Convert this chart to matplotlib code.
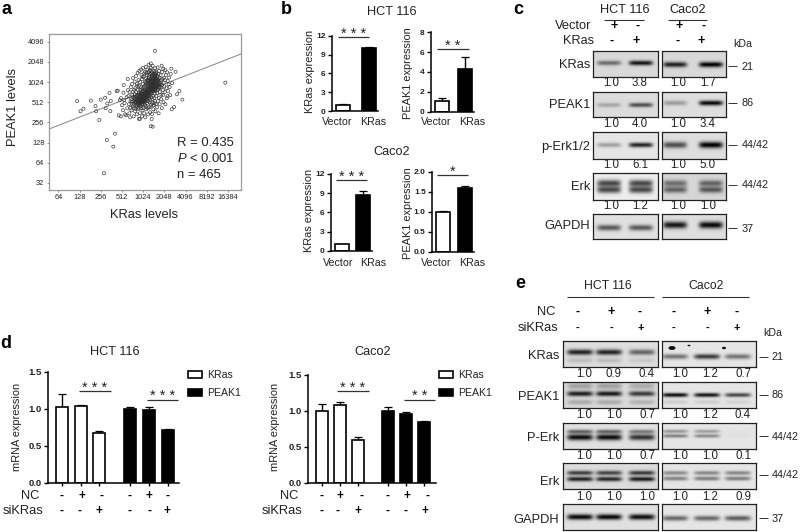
import numpy as np
import matplotlib
matplotlib.use("Agg")
import matplotlib.pyplot as plt
from matplotlib.patches import Ellipse

plt.rcParams['font.family'] = ['Liberation Sans', 'DejaVu Sans']
plt.rcParams['mathtext.fontset'] = 'custom'
plt.rcParams['mathtext.it'] = 'Liberation Sans:italic'
plt.rcParams['mathtext.rm'] = 'Liberation Sans'

# ---------- panel a data (log2 of levels) ----------
log2_ticks_x = [6, 7, 8, 9, 10, 11, 12, 13, 14]
log2_ticks_y = [5, 6, 7, 8, 9, 10, 11, 12]
fit_x = [5.53, 14.62]
fit_y = [7.66, 11.39]
scatter_outer = [
 (6.88,9.06),(7.04,8.55),(7.18,8.68),(7.53,9.08),(7.75,8.81),(7.78,8.55),(7.93,8.12),(8.0,9.13),
 (8.2,9.22),(8.31,8.94),(8.23,8.70),(8.41,9.46),(8.47,9.06),(8.45,8.56),(8.28,7.13),(8.67,7.44),
 (8.59,6.80),(8.15,5.48),(8.75,9.55),(8.80,9.57),(9.07,9.47),(9.08,9.85),(9.27,10.15),(10.56,11.55),
 (13.88,9.97),(11.85,9.13),(11.71,9.55),(11.60,9.39),(11.46,8.76),(11.35,8.65),(11.53,10.51),
 (11.33,10.66),(11.30,10.40),(10.87,10.81),(10.36,10.92),(10.45,7.79),(10.36,7.81),(10.40,8.17),
 (9.84,8.17),(9.80,8.18),(11.15,9.30),(11.37,9.95),(11.20,9.88),
]
scatter_ring = [
 (8.85,8.35),(8.95,8.30),(8.90,9.10),(8.95,9.20),(9.00,8.85),(9.05,8.60),(9.10,9.10),(9.12,8.95),
 (9.15,8.40),(9.20,8.35),(9.22,9.25),(9.25,8.70),(9.28,9.60),(9.30,9.30),(9.33,8.90),(9.35,8.45),
 (9.38,8.25),(9.40,9.05),(9.42,9.75),(9.45,8.60),(9.47,9.90),(9.48,9.35),(9.50,8.80),(9.52,10.20),
 (9.55,8.30),(9.57,9.62),(9.60,10.02),(9.62,8.55),(9.64,8.95),(9.66,10.30),(9.70,8.40),(9.72,9.80),
 (9.74,10.45),(9.76,8.65),(9.78,10.10),(9.82,10.55),(9.85,8.45),(9.88,8.80),(9.90,10.62),(9.92,10.35),
 (9.95,8.30),(9.97,8.60),(10.00,10.70),(10.02,8.90),(10.05,8.45),(10.08,10.50),(10.10,8.25),(10.12,10.75),
 (10.15,8.65),(10.18,8.95),(10.20,10.62),(10.23,8.40),(10.26,10.85),(10.28,8.75),(10.30,10.55),(10.33,8.50),
 (10.36,10.70),(10.38,8.88),(10.42,8.42),(10.45,10.80),(10.48,8.65),(10.50,10.55),(10.53,8.95),(10.56,10.68),
 (10.58,8.55),(10.62,10.45),(10.65,8.75),(10.68,10.72),(10.70,9.05),(10.73,8.45),(10.76,10.55),(10.78,8.90),
 (10.82,10.35),(10.85,9.15),(10.88,8.70),(10.90,10.50),(10.93,9.35),(10.96,9.00),(10.98,10.20),(11.02,9.50),
 (11.05,8.90),(11.07,10.35),(11.10,9.70),(11.12,9.20),(11.16,10.05),(11.18,9.55),(11.22,10.22),(11.25,9.75),
 (11.04,10.60),(10.95,10.65),(11.13,10.48),(11.28,9.35),(9.58,9.20),(9.68,9.30),(9.36,9.50),(9.44,9.15),
]
scatter_core = [
 (9.55,9.05),(9.58,8.90),(9.60,9.40),(9.62,9.15),(9.63,9.70),(9.65,9.00),(9.67,9.50),(9.68,8.85),
 (9.70,9.22),(9.71,9.90),(9.73,9.05),(9.75,9.38),(9.76,9.60),(9.77,8.98),(9.79,9.18),(9.80,9.82),
 (9.81,9.45),(9.83,9.02),(9.84,9.28),(9.85,10.00),(9.86,9.62),(9.87,9.12),(9.88,9.40),(9.89,8.95),
 (9.90,9.75),(9.91,9.22),(9.92,9.05),(9.93,9.50),(9.94,10.15),(9.95,9.32),(9.95,8.90),(9.96,9.68),
 (9.97,9.12),(9.98,9.42),(9.99,9.90),(10.00,9.02),(10.00,9.25),(10.01,9.55),(10.02,9.75),(10.03,10.28),
 (10.04,9.12),(10.05,9.36),(10.06,9.62),(10.07,8.98),(10.08,10.02),(10.09,9.48),(10.10,9.22),(10.10,9.78),
 (10.11,9.05),(10.12,9.30),(10.13,9.58),(10.14,10.18),(10.15,9.90),(10.16,9.42),(10.17,9.15),(10.18,9.68),
 (10.19,10.35),(10.20,9.28),(10.21,9.52),(10.22,9.82),(10.23,9.05),(10.24,10.05),(10.25,9.38),(10.26,9.62),
 (10.27,10.22),(10.28,9.20),(10.29,9.48),(10.30,9.92),(10.31,9.72),(10.32,9.10),(10.33,10.40),(10.34,9.35),
 (10.35,9.58),(10.36,10.10),(10.37,9.82),(10.38,9.25),(10.39,9.45),(10.40,10.02),(10.41,9.68),(10.42,10.28),
 (10.43,9.15),(10.44,9.90),(10.45,9.52),(10.46,10.15),(10.47,9.75),(10.48,9.32),(10.49,10.00),(10.50,9.62),
 (10.51,10.35),(10.52,9.20),(10.53,9.85),(10.54,9.42),(10.55,10.08),(10.56,9.70),(10.57,9.05),(10.58,10.22),
 (10.59,9.55),(10.60,9.92),(10.62,9.30),(10.63,10.05),(10.64,9.78),(10.66,10.30),(10.67,9.45),(10.69,9.62),
 (10.70,10.12),(10.72,9.88),(10.74,9.22),(10.75,9.70),(10.77,10.20),(10.79,9.50),(10.80,9.95),(10.83,9.72),
 (10.84,10.08),(10.86,9.38),(10.89,9.85),(10.91,10.15),(10.94,9.60),(10.97,9.95),(11.00,9.78),(11.03,10.10),
 (9.48,9.02),(9.50,9.25),(9.45,8.92),(9.52,9.52),(9.40,8.72),(9.56,8.72),(9.64,8.68),(9.72,8.78),
 (9.78,8.72),(9.86,8.92),(9.92,8.70),(10.02,8.72),(10.09,8.85),(10.13,8.78),(10.22,8.70),(10.30,9.00),
 (10.35,8.78),(10.44,8.95),(10.50,8.85),(10.60,8.90),(10.42,10.50),(10.34,10.60),(10.25,10.48),(10.15,10.45),
 (10.05,10.42),(9.97,10.25),(10.48,10.42),(10.60,10.52),(10.72,10.40),(10.40,10.42),(10.28,10.32),(10.58,10.38),
]
scatter_dense_low = [
 (9.62,9.02),(9.66,9.10),(9.70,8.97),(9.74,9.12),(9.78,9.05),(9.80,9.25),(9.82,8.96),(9.85,9.10),
 (9.86,9.20),(9.88,9.03),(9.90,9.30),(9.92,9.15),(9.94,9.00),(9.94,9.24),(9.96,9.10),(9.98,9.32),
 (9.98,9.05),(10.00,9.15),(10.02,9.38),(10.02,9.06),(10.04,9.22),(10.06,9.14),(10.06,9.44),(10.08,9.30),
 (10.08,9.04),(10.10,9.40),(10.12,9.14),(10.12,9.50),(10.14,9.25),(10.16,9.36),(10.16,9.55),(10.18,9.20),
 (10.20,9.44),(10.20,9.62),(10.22,9.33),(10.24,9.50),(10.24,9.72),(10.26,9.42),(10.28,9.58),(10.28,9.30),
 (9.76,8.90),(9.84,8.86),(9.68,9.18),(9.60,9.28),(9.72,9.32),(9.82,9.38),(9.90,9.46),(9.96,9.56),
]
scatter_dense_high = [
 (10.26,9.80),(10.30,9.66),(10.30,9.86),(10.32,9.98),(10.32,9.54),(10.34,9.76),(10.34,10.14),(10.36,9.92),
 (10.36,9.64),(10.38,10.04),(10.38,9.74),(10.38,9.52),(10.40,9.88),(10.40,10.20),(10.42,9.60),(10.42,9.80),
 (10.42,10.10),(10.44,9.96),(10.44,9.70),(10.44,10.34),(10.46,9.86),(10.46,10.05),(10.46,9.58),(10.48,10.18),
 (10.48,9.92),(10.48,9.68),(10.50,10.08),(10.50,9.82),(10.52,9.96),(10.52,10.26),(10.52,9.72),(10.54,10.14),
 (10.54,9.88),(10.54,9.60),(10.56,10.02),(10.56,10.30),(10.58,9.80),(10.58,9.66),(10.60,10.12),(10.60,10.38),
 (10.62,9.90),(10.62,9.72),(10.64,10.16),(10.64,9.60),(10.66,9.88),(10.66,10.06),(10.68,9.78),(10.68,10.22),
 (10.70,9.96),(10.72,10.08),(10.74,9.84),(10.76,10.00),(10.78,9.74),(10.82,9.86),(10.20,9.94),(10.22,10.12),
 (10.18,10.08),(10.28,10.10),(10.12,9.98),(10.10,9.86),
]
scatter_all = scatter_outer + scatter_ring + scatter_core + scatter_dense_low + scatter_dense_high

# ---------- panel b data ----------
b_cats = ['Vector', 'KRas']
b_hct_kras = [1.0, 10.1]
b_hct_kras_err = [0.05, 0.1]
b_hct_peak1 = [1.05, 4.3]
b_hct_peak1_err = [0.35, 1.25]
b_caco_kras = [1.0, 8.7]
b_caco_kras_err = [0.05, 0.7]
b_caco_peak1 = [1.0, 1.6]
b_caco_peak1_err = [0.01, 0.05]
b_hct_kras_ticks = [0, 3, 6, 9, 12]
b_hct_peak1_ticks = [0, 2, 4, 6, 8]
b_caco_kras_ticks = [0, 3, 6, 9, 12]
b_caco_peak1_ticks = [0.0, 0.5, 1.0, 1.5, 2.0]

# ---------- panel d data ----------
d_hct_kras = [1.02, 1.04, 0.67]
d_hct_kras_err = [0.18, 0.01, 0.03]
d_hct_peak1 = [1.00, 0.99, 0.72]
d_hct_peak1_err = [0.02, 0.04, 0.01]
d_caco_kras = [1.00, 1.09, 0.60]
d_caco_kras_err = [0.10, 0.04, 0.04]
d_caco_peak1 = [1.00, 0.96, 0.85]
d_caco_peak1_err = [0.06, 0.03, 0.01]
d_ticks = [0.0, 0.5, 1.0, 1.5]
nc_signs = ['-', '+', '-', '-', '+', '-']
si_signs = ['-', '-', '+', '-', '-', '+']

# ---------- panel c data: band strength per lane, fold values ----------
c_kras = [0.5, 0.92, 0.85, 1.0]
c_peak1 = [0.25, 0.65, 0.3, 0.97]
c_perk = [0.3, 0.85, 0.65, 1.0]
c_erk = [0.7, 0.7, 0.55, 0.6]
c_gapdh = [0.6, 0.6, 0.9, 0.97]
c_fold_kras = ['1.0', '3.8', '1.0', '1.7']
c_fold_peak1 = ['1.0', '4.0', '1.0', '3.4']
c_fold_perk = ['1.0', '6.1', '1.0', '5.0']
c_fold_erk = ['1.0', '1.2', '1.0', '1.0']

# ---------- panel e data ----------
e_kras = [0.85, 0.85, 0.55, 0.5, 0.75, 0.5]
e_peak1 = [0.88, 0.9, 0.75, 0.95, 0.92, 0.7]
e_perk = [0.95, 0.95, 0.78, 0.5, 0.45, 0.03]
e_erk = [0.72, 0.7, 0.75, 0.4, 0.42, 0.42]
e_gapdh = [0.97, 0.97, 0.95, 0.55, 0.55, 0.6]
e_fold_kras = ['1.0', '0.9', '0.4', '1.0', '1.2', '0.7']
e_fold_peak1 = ['1.0', '1.0', '0.7', '1.0', '1.2', '0.4']
e_fold_perk = ['1.0', '1.0', '0.7', '1.0', '1.0', '0.1']
e_fold_erk = ['1.0', '1.0', '1.0', '1.0', '1.2', '0.9']

W, H = 800, 532
fig = plt.figure(figsize=(W / 100, H / 100), dpi=100, facecolor='white')


def axpx(x0, y0, x1, y1, **kw):
    return fig.add_axes([x0 / W, 1 - y1 / H, (x1 - x0) / W, (y1 - y0) / H], **kw)


ov = fig.add_axes([0, 0, 1, 1], zorder=10)
ov.set_xlim(0, W)
ov.set_ylim(H, 0)
ov.axis('off')
TC = '#222222'


def T(x, y, s, size=8, ha='center', va='center', **kw):
    kw.setdefault('color', TC)
    ov.text(x, y, s, fontsize=size, ha=ha, va=va, **kw)


def L(x0, x1, y, lw=0.8, c='#333333'):
    ov.plot([x0, x1], [y, y], color=c, lw=lw, solid_capstyle='butt')


def sign(x, y, s, size=8.5):
    T(x, y, s, size=size, fontweight='bold', color='black')


for (x, y, s) in [(7, 9, 'a'), (286, 9, 'b'), (518, 9, 'c'), (6, 343, 'd'), (520, 283, 'e')]:
    T(x, y, s, size=13, fontweight='bold', color='black')

# ---------- panel a ----------
ax = axpx(48.5, 34, 241, 190)
sx = [p[0] for p in scatter_all]
sy = [p[1] for p in scatter_all]
ax.scatter(sx, sy, s=5, facecolors='none', edgecolors='#303030', linewidths=0.45, zorder=3)
ax.plot(fit_x, fit_y, color='#8c8c8c', lw=0.75, zorder=2)
ax.set_xlim(5.53, 14.62)
ax.set_ylim(4.65, 12.38)
ax.set_xticks(log2_ticks_x)
ax.set_xticklabels([str(2 ** int(v)) for v in log2_ticks_x], fontsize=5.3, color=TC)
ax.set_yticks(log2_ticks_y)
ax.set_yticklabels([str(2 ** int(v)) for v in log2_ticks_y], fontsize=5.3, color=TC)
ax.tick_params(length=1.5, width=0.5, color='#666666', pad=1.5)
for sp in ax.spines.values():
    sp.set_color('#9a9a9a')
    sp.set_linewidth(0.9)
T(144, 215, 'KRas levels', size=9.3)
T(13, 107, 'PEAK1 levels', size=9.3, rotation=90)
T(177, 143, 'R = 0.435', size=9.4, ha='left')
T(177, 159, r'$\mathit{P}$ < 0.001', size=9.4, ha='left')
T(177, 175, 'n = 465', size=9.4, ha='left')


def style_bar_axis(ax, ticks, labels, size=6):
    for s in ('top', 'right'):
        ax.spines[s].set_visible(False)
    for s in ('left', 'bottom'):
        ax.spines[s].set_linewidth(1.1)
    ax.set_yticks(ticks)
    ax.set_yticklabels(labels, fontsize=size, fontweight='bold', color=TC)
    ax.tick_params(axis='y', length=3, width=1.0, pad=1.5)
    ax.patch.set_alpha(0)


def bars(ax, xs, vals, errs, fill, width, label=None):
    c = ax.bar(xs, vals, width=width, facecolor=fill, edgecolor='black', linewidth=1.2, label=label, zorder=2)
    ax.errorbar(xs, vals, yerr=[[0] * len(vals), errs], fmt='none', ecolor='black',
                elinewidth=1.0, capsize=2.6, capthick=0.9, zorder=1)
    return c


# ---------- panel b ----------
b_panels = [
    (332, 385, 35.7, 111, 12, b_hct_kras, b_hct_kras_err, b_hct_kras_ticks, [str(t) for t in b_hct_kras_ticks],
     (343, 369), (338, 369, 37), '* * *', 'KRas expression', 310, 71, 122, 337, 373),
    (431, 482, 32.3, 111.7, 8, b_hct_peak1, b_hct_peak1_err, b_hct_peak1_ticks, [str(t) for t in b_hct_peak1_ticks],
     (442, 465), (437, 469, 48.7), '* *', 'PEAK1 expression', 408, 73, 122, 436, 472),
    (331, 382, 174, 250.7, 12, b_caco_kras, b_caco_kras_err, b_caco_kras_ticks, [str(t) for t in b_caco_kras_ticks],
     (342, 363), (336, 367, 180), '* * *', 'KRas expression', 309, 210, 263, 338, 373),
    (432, 482, 172, 251.7, 2.0, b_caco_peak1, b_caco_peak1_err, b_caco_peak1_ticks, ['%.1f' % t for t in b_caco_peak1_ticks],
     (443, 465), (437, 468, 175), '*', 'PEAK1 expression', 408, 213, 263, 436, 472),
]
for (x0, x1, yt, yb, ymax, vals, errs, ticks, tl, cx, sig, star, yl, ylx, yly, laby, vx, kx) in b_panels:
    a = axpx(x0, yt, x1, yb)
    a.set_xlim(x0, x1)
    a.set_ylim(0, ymax)
    bars(a, cx[0], [vals[0]], [errs[0]], 'white', 14)
    bars(a, cx[1], [vals[1]], [errs[1]], 'black', 14)
    a.set_xticks([])
    style_bar_axis(a, ticks, tl)
    a.spines['bottom'].set_bounds(x0, cx[1] + 9)
    L(sig[0], sig[1], sig[2], lw=0.9)
    T((sig[0] + sig[1]) / 2, sig[2] - 3, star, size=10.5)
    T(ylx, yly, yl, size=7.9, rotation=90)
    T(vx, laby, b_cats[0], size=7.7)
    T(kx, laby, b_cats[1], size=7.7)
T(392, 12, 'HCT 116', size=9.2)
T(392, 152, 'Caco2', size=9.2)

# ---------- panel d ----------
d_panels = [
    (47.7, 179, 371.7, 483, d_hct_kras, d_hct_kras_err, d_hct_peak1, d_hct_peak1_err,
     (62, 80.7, 99.3), (130, 149, 168), (79, 111, '* * *'), (147, 178, '* * *'), 17,
     (62, 82, 102, 130, 149, 168), (62, 80, 99, 130, 149, 167), 39, 43, 188, 115, 'HCT 116'),
    (307.7, 435.7, 375, 483, d_caco_kras, d_caco_kras_err, d_caco_peak1, d_caco_peak1_err,
     (321.7, 340, 357.7), (388, 406, 424), (337, 369, '* * *'), (404, 435, '* *'), 275,
     (321, 340, 361, 388, 407, 427), (321, 338, 358, 388, 405, 425), 298, 302, 439, 373, 'Caco2'),
]
for (x0, x1, yt, yb, kv, ke, pv, pe, kx, px, s1, s2, ylx, ncx, six, ncr, sir, legx, tx, title) in d_panels:
    a = axpx(x0, yt, x1, yb)
    a.set_xlim(x0, x1)
    a.set_ylim(0, 1.5)
    bars(a, kx, kv, ke, 'white', 12, label='KRas')
    bars(a, px, pv, pe, 'black', 12, label='PEAK1')
    a.set_xticks(list(kx) + list(px))
    a.set_xticklabels([])
    a.tick_params(axis='x', length=2.5, width=1.0)
    style_bar_axis(a, d_ticks, ['%.1f' % t for t in d_ticks], size=6.8)
    L(s1[0], s1[1], 391, lw=0.9)
    T((s1[0] + s1[1]) / 2, 387.5, s1[2], size=10.5)
    L(s2[0], s2[1], 400, lw=0.9)
    T((s2[0] + s2[1]) / 2, 396.5, s2[2], size=10.5)
    T(ylx, 427, 'mRNA expression', size=7.9, rotation=90)
    T(tx, 352, title, size=9.2)
    for xp, s in zip(ncx, nc_signs):
        sign(xp, 496, s)
    for xp, s in zip(six, si_signs):
        sign(xp, 511, s)
    T(ncr, 496, 'NC', size=9.3, ha='right')
    T(sir, 511, 'siKRas', size=9.3, ha='right')
    a.legend(loc='upper left', bbox_to_anchor=(legx / W, 1 - 370 / H), bbox_transform=fig.transFigure,
             frameon=False, fontsize=7.6, borderpad=0, borderaxespad=0, handlelength=1.33, handleheight=0.6,
             handletextpad=0.5, labelspacing=0.75, labelcolor=TC)


# ---------- western blots ----------
def blot(x0, y0, x1, y1, lanes, strengths, rows, hw, bg):
    """Draw one blot frame as an image: lanes at pixel x, one band row per fraction."""
    a = axpx(x0, y0, x1, y1)
    nx, ny = int((x1 - x0) * 3), int((y1 - y0) * 3)
    xs = np.linspace(x0, x1, nx)
    ys = np.linspace(0, 1, ny)
    img = np.full((ny, nx), 1.0)
    for lx, st in zip(lanes, strengths):
        prof_x = np.exp(-((xs - lx) / hw) ** 6)
        for fy, th, rel in rows:
            prof_y = np.exp(-((ys - fy) / th) ** 2)
            img *= 1 - st * rel * np.outer(prof_y, prof_x)
    img = bg * img
    a.imshow(img, cmap='gray', vmin=0, vmax=1, aspect='auto', interpolation='bilinear')
    a.set_xticks([])
    a.set_yticks([])
    for sp in a.spines.values():
        sp.set_linewidth(0.9)
        sp.set_color('#222222')


# panel c
cL = (593, 658)
cR = (662, 726)
c_lanes_L = (609, 641)
c_lanes_R = (675, 711)
c_rows = [
    (50.7, 77, c_kras, [(0.48, 0.09, 1)], [(0.54, 0.1, 1)], 0.85, 0.85, 'KRas', 65, 66, '21', c_fold_kras, 83),
    (92, 117, c_peak1, [(0.52, 0.09, 1)], [(0.44, 0.1, 1)], 0.86, 0.87, 'PEAK1', 105, 103, '86', c_fold_peak1, 124),
    (132, 159, c_perk, [(0.48, 0.09, 1)], [(0.48, 0.12, 1)], 0.9, 0.87, 'p-Erk1/2', 147, 145, '44/42', c_fold_perk, 165),
    (173, 200, c_erk, [(0.38, 0.13, 1), (0.62, 0.13, 1)], [(0.38, 0.12, 0.9), (0.62, 0.12, 1)], 0.93, 0.84, 'Erk', 187, 185, '44/42', c_fold_erk, 206),
    (214, 239, c_gapdh, [(0.55, 0.12, 1)], [(0.44, 0.14, 1)], 0.88, 0.87, 'GAPDH', 226, 228, '37', None, 0),
]
c_num_x = (610.7, 640, 677.7, 708)
for (y0, y1, st, rl, rr, bgl, bgr, name, ly, my, kd, fold, fy) in c_rows:
    blot(cL[0], y0, cL[1], y1, c_lanes_L, st[:2], rl, 12, bgl)
    blot(cR[0], y0, cR[1], y1, c_lanes_R, st[2:], rr, 12, bgr)
    T(590, ly, name, size=9.3, ha='right')
    L(728, 737, my, lw=0.7)
    T(742, my + 0.5, kd, size=7.8, ha='left')
    if fold:
        for xp, s in zip(c_num_x, fold):
            T(xp, fy, s, size=8.3)
T(625, 10, 'HCT 116', size=9.2)
T(688, 10, 'Caco2', size=9.2)
L(604, 644, 19.5)
L(668, 707, 19.5)
T(591, 26, 'Vector', size=9.3, ha='right')
T(594, 41, 'KRas', size=9.2, ha='right')
for xp, s in zip((614, 638, 679, 704), ['+', '-', '+', '-']):
    sign(xp, 25.5, s, 9)
for xp, s in zip((612, 636, 678, 701), ['-', '+', '-', '+']):
    sign(xp, 41, s, 9)
T(743, 44, 'kDa', size=7.7)

# panel e
eL = (563, 658)
eR = (662, 756)
e_lanes_L = (580, 609, 642)
e_lanes_R = (675, 707, 738)
e_rows = [
    (341, 367, e_kras, [(0.43, 0.11, 1), (0.75, 0.1, 0.18)], [(0.6, 0.1, 1)], 0.87, 0.9, 'KRas', 356, 357, '21', e_fold_kras, 374),
    (382, 408, e_peak1, [(0.45, 0.1, 1), (0.15, 0.13, 0.3), (0.78, 0.1, 0.25)], [(0.5, 0.08, 1), (0.78, 0.08, 0.12)], 0.86, 0.9, 'PEAK1', 397, 395, '86', e_fold_peak1, 415),
    (423, 449, e_perk, [(0.55, 0.12, 1), (0.33, 0.08, 0.6)], [(0.5, 0.07, 0.9), (0.32, 0.07, 0.7)], 0.88, 0.9, 'P-Erk', 438, 436, '44/42', e_fold_perk, 456),
    (463, 489, e_erk, [(0.38, 0.09, 1), (0.62, 0.09, 1.2)], [(0.38, 0.08, 1), (0.6, 0.08, 1.1)], 0.86, 0.9, 'Erk', 482, 475, '44/42', e_fold_erk, 497),
    (504, 530, e_gapdh, [(0.5, 0.11, 1)], [(0.55, 0.1, 1)], 0.88, 0.9, 'GAPDH', 520, 518, '37', None, 0),
]
e_num_x = (584, 614, 647, 680, 710, 743)
for (y0, y1, st, rl, rr, bgl, bgr, name, ly, my, kd, fold, fy) in e_rows:
    blot(eL[0], y0, eL[1], y1, e_lanes_L, st[:3], rl, 13, bgl)
    blot(eR[0], y0, eR[1], y1, e_lanes_R, st[3:], rr, 13, bgr)
    T(559, ly, name, size=9.3, ha='right')
    L(759, 768, my, lw=0.7)
    T(772, my + 0.5, kd, size=7.8, ha='left')
    if fold:
        for xp, s in zip(e_num_x, fold):
            T(xp, fy, s, size=8.3)
# dark specks seen on the Caco2 KRas frame of panel e
for (cx_, cy_, w_, h_) in [(672, 348, 7, 4), (689, 345.5, 3, 1.5), (724, 348, 4, 2.5)]:
    ov.add_patch(Ellipse((cx_, cy_), w_, h_, facecolor='#111111', edgecolor='none'))
T(608, 286, 'HCT 116', size=8.8)
T(706, 286, 'Caco2', size=8.8)
L(567, 654, 297)
L(662, 749, 297)
T(555, 312, 'NC', size=9.3, ha='right')
T(558, 328, 'siKRas', size=9.3, ha='right')
for xp, s in zip((578, 611, 640, 674, 707, 737), nc_signs):
    sign(xp, 311.5, s, 9)
for xp, s in zip((578, 611, 641, 674, 707, 737), si_signs):
    sign(xp, 327.5, s, 8)
T(773, 333, 'kDa', size=7.7)

fig.savefig('out.png', dpi=100, facecolor='white')
